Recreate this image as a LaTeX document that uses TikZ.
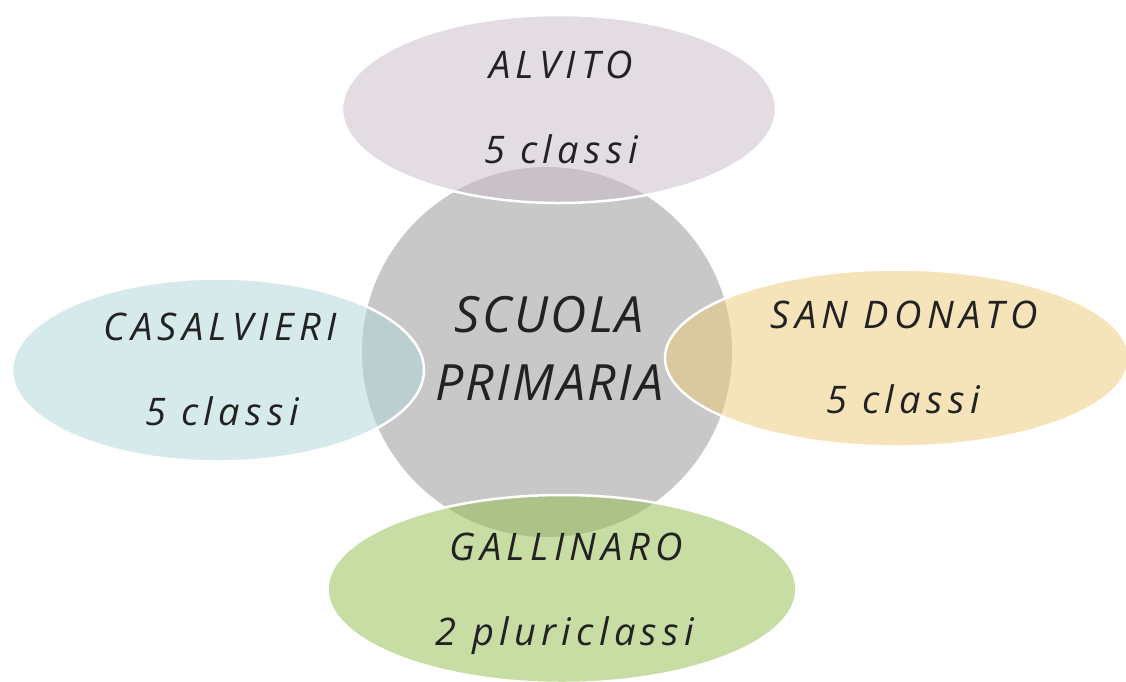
\documentclass[tikz,border=0pt]{standalone}
\usepackage{fontspec}
\setmainfont{Open Sans}
\newfontfamily\lblfont[LetterSpace=14]{Open Sans}
\newfontfamily\hubfont[LetterSpace=5]{Open Sans}
\usetikzlibrary{shapes.geometric}
\definecolor{hub}{RGB}{200,200,200}
\definecolor{cTop}{RGB}{201,187,201}
\definecolor{cLeft}{RGB}{177,215,217}
\definecolor{cRight}{RGB}{237,201,119}
\definecolor{cBot}{RGB}{147,189,75}
\definecolor{ink}{RGB}{34,34,34}
\tikzset{
  petal/.style={ellipse, draw=white, line width=2.5pt, fill opacity=0.5, draw opacity=1, inner sep=0pt},
  lbl/.style={anchor=base, text=ink, font=\lblfont\itshape\fontsize{38}{40}\selectfont},
  hublbl/.style={anchor=base, text=ink, font=\hubfont\itshape\fontsize{50}{52}\selectfont},
}
\begin{document}
\begin{tikzpicture}[x=1pt,y=-1pt]
\useasboundingbox (0,0) rectangle (1126,681);
\fill[white] (0,0) rectangle (1126,681);
\node[circle, fill=hub, minimum size=370pt, inner sep=0pt] (hub) at (547,352) {};
\node[petal, fill=cTop, minimum width=434pt, minimum height=188pt] (top) at (559,109) {};
\node[petal, fill=cLeft, minimum width=412pt, minimum height=183pt] (left) at (218,370) {};
\node[petal, fill=cRight, minimum width=464pt, minimum height=177pt] (right) at (897,358) {};
\node[petal, fill=cBot, minimum width=469pt, minimum height=188pt] (bot) at (562,589) {};
\node[hublbl] (h1) at (549,332) {SCUOLA};
\node[hublbl] (h2) at (549,400) {PRIMARIA};
\node[lbl] (t1) at (561,78) {ALVITO};
\node[lbl] (t2) at (561,163) {5 classi};
\node[lbl] (l1) at (220,340) {CASALVIERI};
\node[lbl] (l2) at (222,425) {5 classi};
\node[lbl] (r1) at (904,328) {SAN DONATO};
\node[lbl] (r2) at (903,413) {5 classi};
\node[lbl] (b1) at (566,560) {GALLINARO};
\node[lbl] (b2) at (565,645) {2 pluriclassi};
\end{tikzpicture}
\end{document}
